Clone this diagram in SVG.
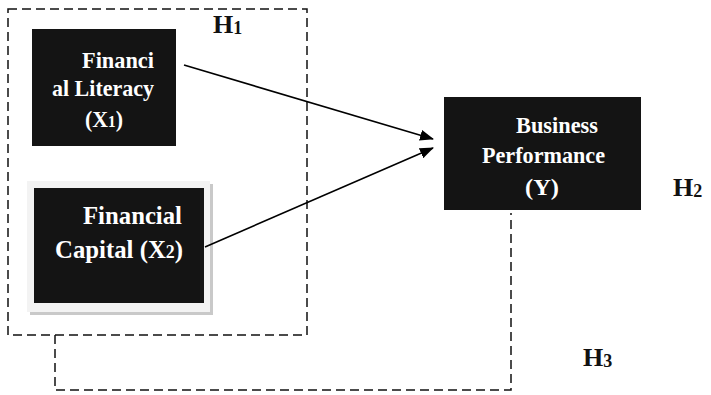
<svg xmlns="http://www.w3.org/2000/svg" width="711" height="395" viewBox="0 0 711 395">
<style>
.box{fill:#141414}
.nt{font-family:"Liberation Serif","Times New Roman",serif;font-weight:bold;fill:#ffffff;font-size:23px}
.big{font-size:25px}
.ht{font-family:"Liberation Serif","Times New Roman",serif;font-weight:bold;fill:#111;font-size:26px}
.dash{fill:none;stroke:#111;stroke-width:1.5;stroke-dasharray:9,5}
.arr{stroke:#000;stroke-width:1.6;fill:none}
</style>
<defs>
<marker id="ah" markerWidth="14" markerHeight="11" refX="13" refY="5.5" orient="auto" markerUnits="userSpaceOnUse">
<path d="M0,0 L14,5.5 L0,11 Z" fill="#000"/>
</marker>
</defs>
<rect id="group-box" class="dash" x="8" y="9" width="299" height="326"/>
<g id="node-x1">
<rect class="box" x="32" y="29" width="144" height="117"/>
<text class="nt" x="82" y="68" textLength="72" lengthAdjust="spacingAndGlyphs">Financi</text>
<text class="nt" x="52" y="96" textLength="102" lengthAdjust="spacingAndGlyphs">al Literacy</text>
<text class="nt" x="85" y="127" textLength="38" lengthAdjust="spacingAndGlyphs">(X<tspan font-size="16">1</tspan>)</text>
</g>
<g id="node-x2">
<rect x="30" y="184" width="183" height="131" fill="#c9c9c9"/>
<rect x="27" y="181" width="183" height="131" fill="#f3f3f3"/>
<rect class="box" x="34" y="188" width="170" height="115"/>
<text class="nt big" x="83" y="224" textLength="99" lengthAdjust="spacingAndGlyphs">Financial</text>
<text class="nt big" x="55" y="258" textLength="128" lengthAdjust="spacingAndGlyphs">Capital (X<tspan font-size="18">2</tspan>)</text>
</g>
<g id="node-y">
<rect class="box" x="444" y="97" width="197" height="113"/>
<text class="nt" x="516" y="133" textLength="82" lengthAdjust="spacingAndGlyphs">Business</text>
<text class="nt" x="482" y="163" textLength="123" lengthAdjust="spacingAndGlyphs">Performance</text>
<text class="nt" x="525" y="195" textLength="34" lengthAdjust="spacingAndGlyphs">(Y)</text>
</g>
<g id="connectors">
<line class="arr" x1="184" y1="65" x2="433" y2="139" marker-end="url(#ah)"/>
<line class="arr" x1="205" y1="247" x2="433" y2="148" marker-end="url(#ah)"/>
<path class="dash" d="M55,335 V390 H511 V213"/>
</g>
<g id="labels">
<text class="ht" x="213" y="33">H<tspan font-size="18" dy="1">1</tspan></text>
<text class="ht" x="673" y="196">H<tspan font-size="18" dy="1">2</tspan></text>
<text class="ht" x="583" y="366">H<tspan font-size="18" dy="1">3</tspan></text>
</g>
</svg>
